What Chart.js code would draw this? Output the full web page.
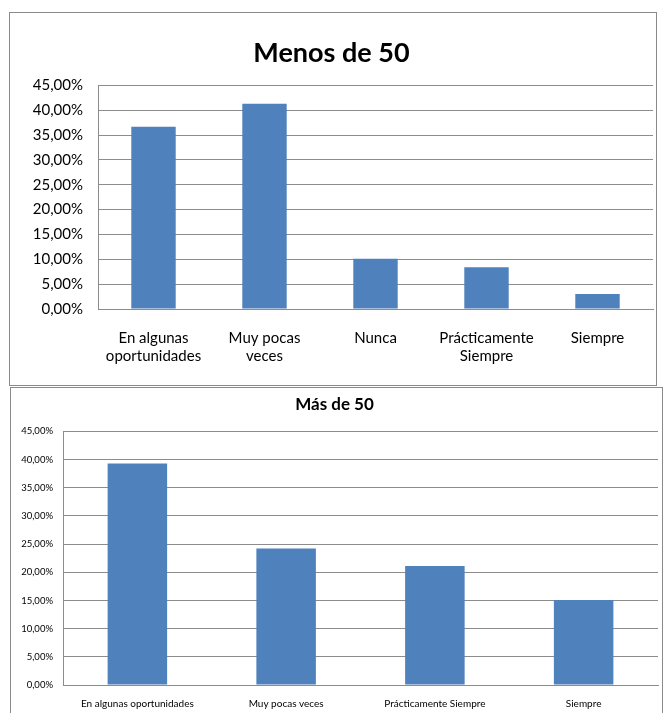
<!DOCTYPE html>
<html>
<head>
<meta charset="utf-8">
<script src="https://cdn.jsdelivr.net/npm/chart.js@4/dist/chart.umd.min.js"></script>
<style>
  html, body { margin: 0; padding: 0; background: #fff; }
  body { width: 664px; height: 713px; position: relative; overflow: hidden; }
  .panel { position: absolute; border: 1px solid #8a8a8a; background: #fff; box-sizing: border-box; }
  #panelMenos { left: 9px; top: 12px; width: 648px; height: 374px; }
  #panelMas { left: 10px; top: 387px; width: 653px; height: 340px; }
  canvas { position: absolute; left: 0; top: 0; }
</style>
</head>
<body>
<div class="panel" id="panelMenos"><canvas id="chartMenos" width="646" height="372"></canvas></div>
<div class="panel" id="panelMas"><canvas id="chartMas" width="651" height="325"></canvas></div>
<script>
// Respuestas del grupo "Menos de 50"
const categoriasMenos = [['En algunas', 'oportunidades'], ['Muy pocas', 'veces'], 'Nunca', ['Prácticamente', 'Siempre'], 'Siempre'];
const valoresMenos = [36.7, 41.3, 10.1, 8.4, 3.0];

// Respuestas del grupo "Más de 50"
const categoriasMas = ['En algunas oportunidades', 'Muy pocas veces', 'Prácticamente Siempre', 'Siempre'];
const valoresMas = [39.3, 24.2, 21.1, 15.1];

// Eje de porcentajes
const ejeMin = 0;
const ejeMax = 45;
const ejePaso = 5;

const azul = '#4F81BD';
const gris = '#8c8c8c';
const fuente = 'Lato, "Open Sans", sans-serif';

const formatoPorcentaje = v => v.toFixed(2).replace('.', ',') + '%';

function crearGrafico(id, titulo, categorias, valores, cfg) {
  return new Chart(document.getElementById(id), {
    type: 'bar',
    data: {
      labels: categorias,
      datasets: [{
        data: valores,
        backgroundColor: azul,
        borderWidth: 0,
        barPercentage: 0.4,
        categoryPercentage: 1.0
      }]
    },
    options: {
      responsive: false,
      animation: false,
      layout: { padding: { left: 0, right: cfg.padRight, top: 0, bottom: 0 } },
      plugins: {
        legend: { display: false },
        tooltip: { enabled: false },
        title: {
          display: true,
          text: titulo,
          color: '#000',
          font: { family: fuente, size: cfg.titleSize, weight: cfg.titleWeight, lineHeight: 1.2 },
          padding: { top: cfg.titleTop, bottom: cfg.titleBottom }
        }
      },
      scales: {
        x: {
          grid: { display: false, drawTicks: false, tickLength: 0 },
          border: { display: true, color: gris, width: 1 },
          ticks: {
            color: '#000',
            font: { family: fuente, size: cfg.xSize, lineHeight: 1.2 },
            padding: cfg.xPad,
            maxRotation: 0,
            autoSkip: false
          },
          afterFit: s => { s.height = cfg.xHeight; }
        },
        y: {
          min: ejeMin,
          max: ejeMax,
          grid: { color: gris, lineWidth: 1, drawTicks: false, tickLength: 0 },
          border: { display: true, color: gris, width: 1 },
          ticks: {
            stepSize: ejePaso,
            color: '#000',
            font: { family: fuente, size: cfg.ySize },
            padding: cfg.yPad,
            callback: v => formatoPorcentaje(v)
          },
          afterFit: s => { s.width = cfg.yWidth; }
        }
      }
    }
  });
}

crearGrafico('chartMenos', 'Menos de 50', categoriasMenos, valoresMenos, {
  padRight: 3, titleSize: 27, titleWeight: 'bold', titleTop: 24, titleBottom: 16,
  xSize: 15, xPad: 20, xHeight: 76, ySize: 15, yPad: 15, yWidth: 88
});

crearGrafico('chartMas', 'Más de 50', categoriasMas, valoresMas, {
  padRight: 4, titleSize: 17, titleWeight: 'bold', titleTop: 6, titleBottom: 17,
  xSize: 10, xPad: 13, xHeight: 28, ySize: 9.5, yPad: 10, yWidth: 52
});
</script>
</body>
</html>
